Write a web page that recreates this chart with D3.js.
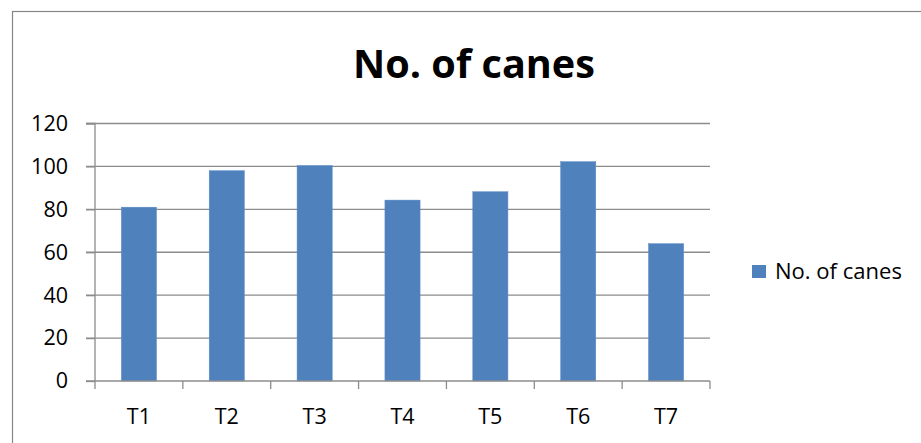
<!DOCTYPE html>
<html><head><meta charset="utf-8">
<script src="https://cdn.jsdelivr.net/npm/d3@7"></script>
<style>html,body{margin:0;padding:0;background:#fff;}</style>
</head><body>
<svg id="c" width="921" height="443"></svg>
<script>
const categories = ["T1","T2","T3","T4","T5","T6","T7"];
const values = [81, 98, 100.4, 84.3, 88.2, 102.2, 64];
const seriesName = "No. of canes";
const yTicks = [0,20,40,60,80,100,120];
const title = "No. of canes";

const svg = d3.select("#c");
const font = "Open Sans, Lato, sans-serif";

function fitText(sel, target){
  const w = sel.node().getComputedTextLength();
  const fs = parseFloat(sel.attr("font-size"));
  sel.attr("font-size", fs*target/w);
}

svg.append("rect").attr("x",12.5).attr("y",11.5).attr("width",930).attr("height",460)
  .attr("fill","#fff").attr("stroke","#868686").attr("stroke-width",1.2);

const L=95, R=710, T=123.5, B=381;
const x = d3.scaleBand().domain(categories).range([L,R]).paddingInner(0.6).paddingOuter(0.3);
const y = d3.scaleLinear().domain([0,120]).range([B,T]);

// gridlines
svg.append("g").selectAll("line").data(yTicks.filter(d=>d>0)).join("line")
  .attr("x1",L-9).attr("x2",R).attr("y1",d=>y(d)).attr("y2",d=>y(d))
  .attr("stroke","#8c8c8c").attr("stroke-width",1.3);

// bars
svg.append("g").selectAll("rect").data(values).join("rect")
  .attr("x",(d,i)=>x(categories[i])).attr("width",x.bandwidth())
  .attr("y",d=>y(d)).attr("height",d=>B-y(d)).attr("fill","#4F81BD")
  .attr("stroke","#5a8ac6").attr("stroke-width",0.5);

// y axis
const ya = svg.append("g").attr("transform",`translate(${L},0)`)
  .call(d3.axisLeft(y).tickValues(yTicks).tickSize(9).tickPadding(18));
ya.select(".domain").attr("stroke","#8c8c8c").attr("stroke-width",1.3).attr("d",`M-9,${T}H0V${B}`);
ya.selectAll(".tick line").attr("stroke","#8c8c8c").attr("stroke-width",1.3);
ya.selectAll(".tick text").attr("font-family",font).attr("font-size",21.5).attr("fill","#000");

// x axis with ticks at boundaries
const xa = svg.append("g").attr("transform",`translate(0,${B})`);
xa.append("line").attr("x1",L-9).attr("x2",R).attr("y1",0).attr("y2",0).attr("stroke","#8c8c8c").attr("stroke-width",1.3);
const bounds = categories.map(c=>x(c)-x.step()*x.paddingInner()/2);
bounds.push(R);
xa.selectAll("line.t").data(bounds).join("line").attr("class","t")
  .attr("x1",d=>d).attr("x2",d=>d).attr("y1",0).attr("y2",8)
  .attr("stroke","#8c8c8c").attr("stroke-width",1.3);
xa.selectAll("text").data(categories).join("text")
  .attr("x",d=>x(d)+x.bandwidth()/2).attr("y",43)
  .attr("text-anchor","middle").attr("font-family",font).attr("font-size",21.5).text(d=>d);

// title
const t = svg.append("text").attr("x",474).attr("y",77.5).attr("text-anchor","middle")
  .attr("font-family",font).attr("font-weight","bold").attr("font-size",44).text(title);
fitText(t,242);

// legend
svg.append("rect").attr("x",752).attr("y",265).attr("width",14).attr("height",13).attr("fill","#4F81BD");
const lt = svg.append("text").attr("x",775).attr("y",278.5).attr("font-family",font).attr("font-size",19).text(seriesName);
fitText(lt,127);
</script>
</body></html>
